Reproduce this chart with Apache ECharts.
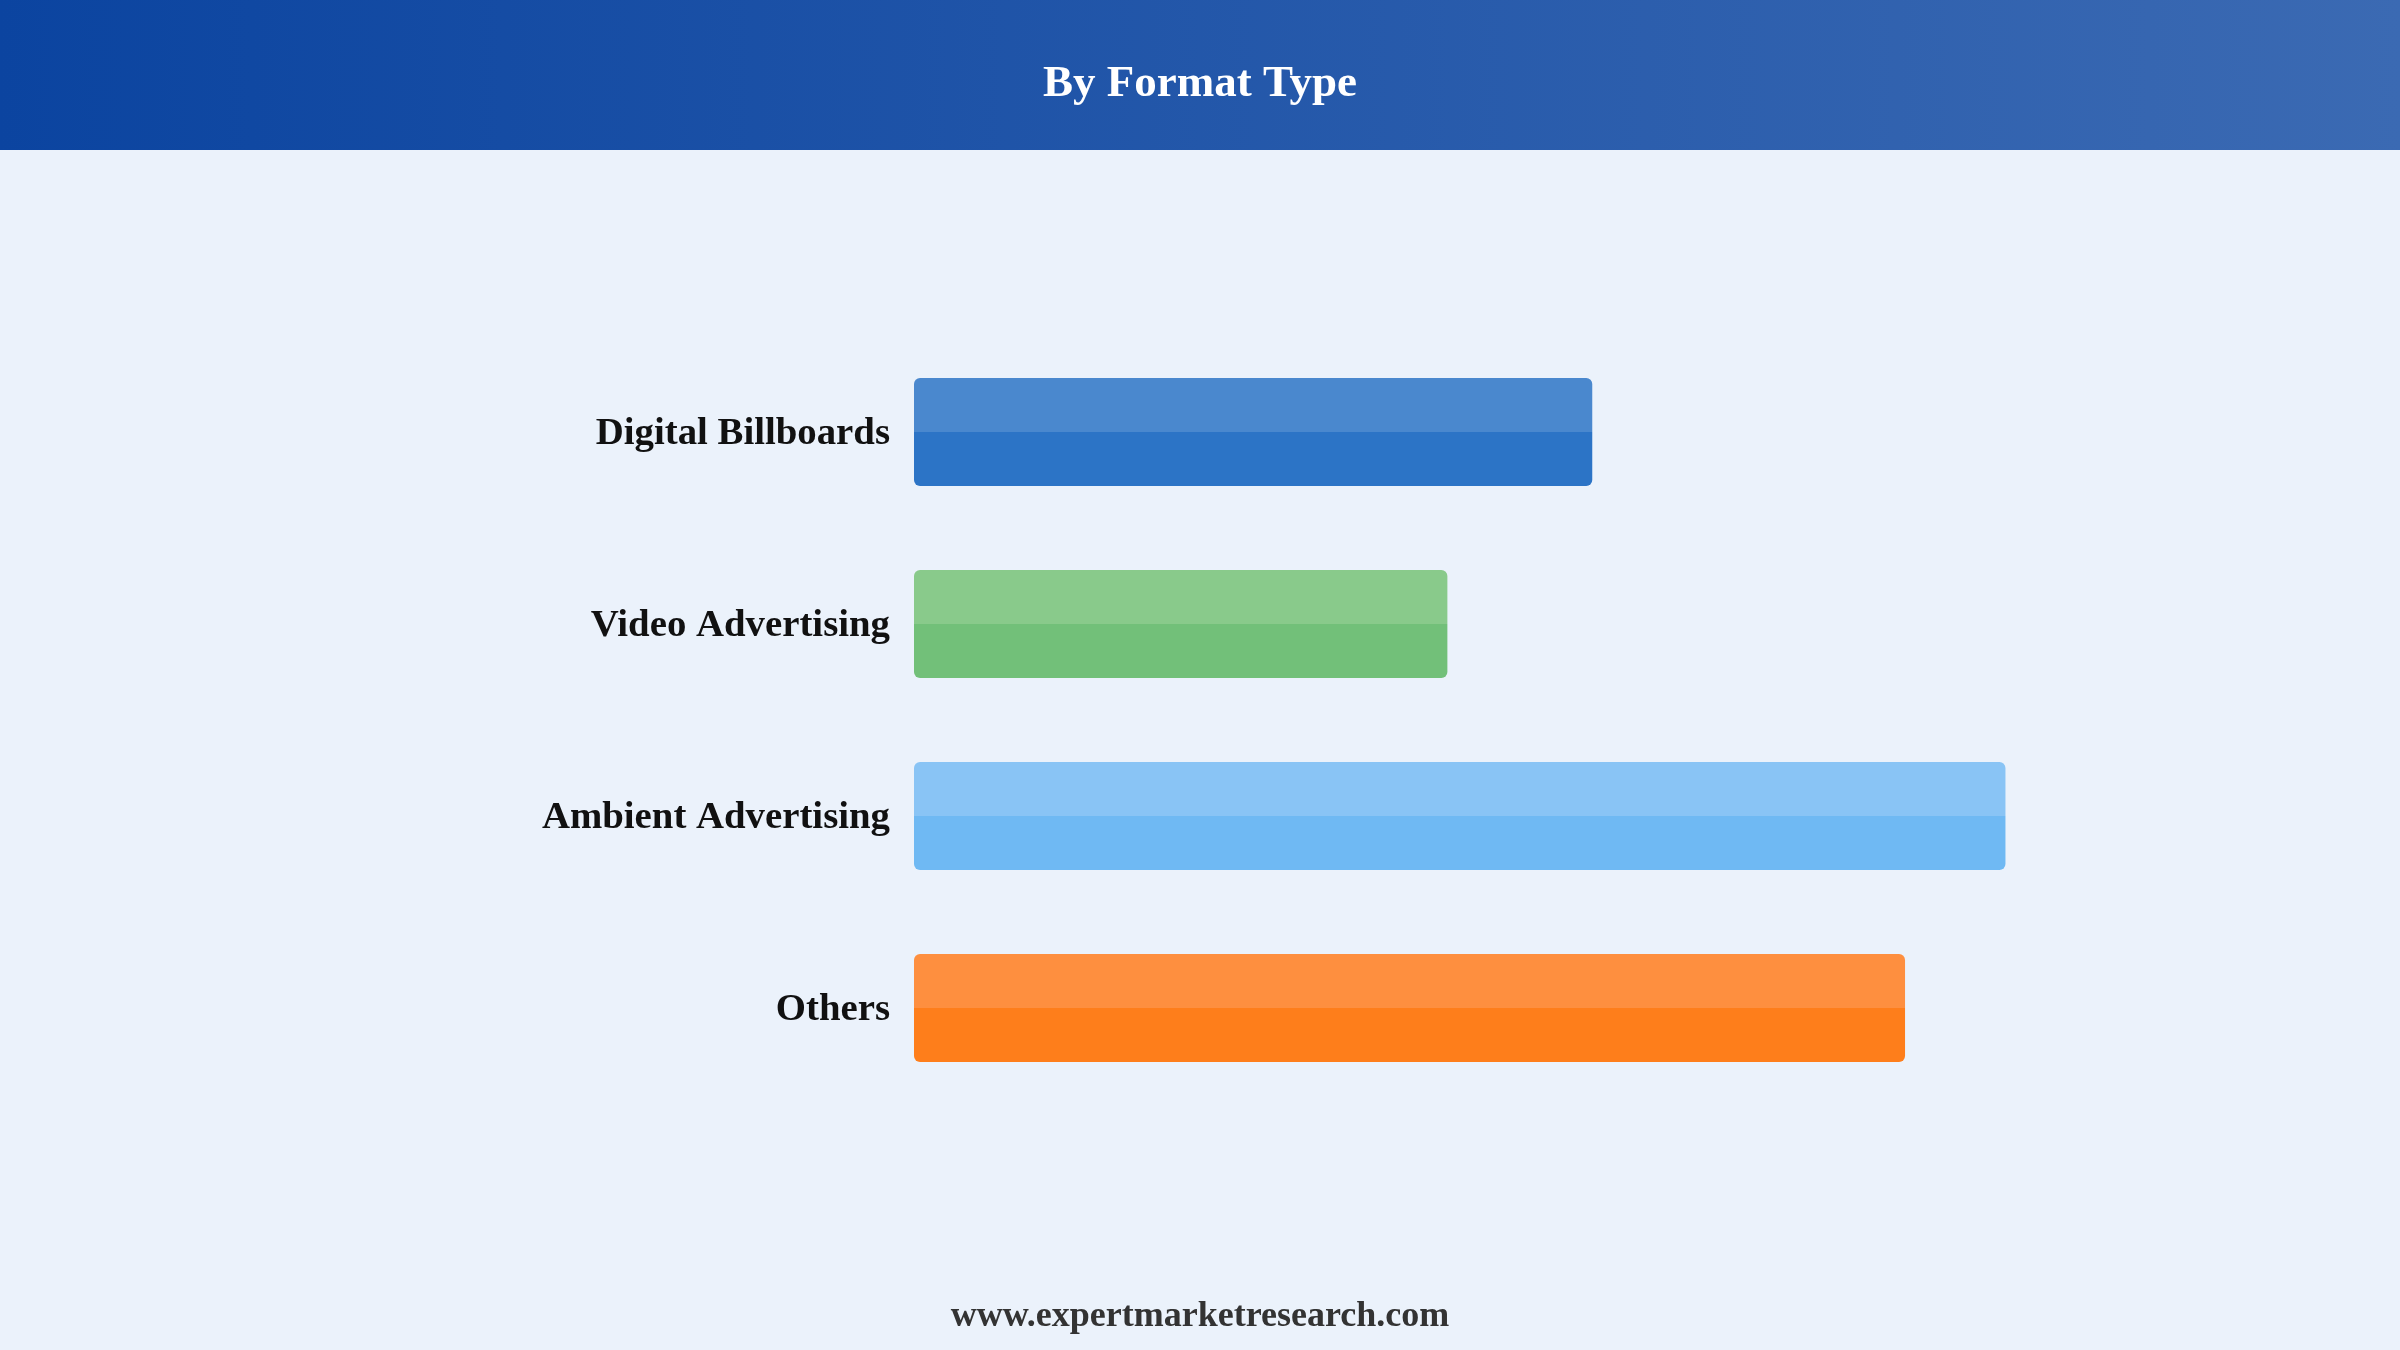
<!DOCTYPE html>
<html>
<head>
<meta charset="utf-8">
<script src="https://cdn.jsdelivr.net/npm/echarts@6/dist/echarts.min.js"></script>
<style>
  html, body { margin: 0; padding: 0; background: #EBF2FB; }
  #chart { width: 2400px; height: 1350px; }
</style>
</head>
<body>
<div id="chart"></div>
<script>
const categories = ['Digital Billboards', 'Video Advertising', 'Ambient Advertising', 'Others'];
const values = [20.6, 16.2, 33.15, 30.1];
const topColors = ['#4A88CE', '#89CA8B', '#89C4F5', '#FE8F3F'];
const bottomColors = ['#2C74C6', '#72C079', '#6FB9F3', '#FE7E1B'];
const titleText = 'By Format Type';
const footerText = 'www.expertmarketresearch.com';

const chart = echarts.init(document.getElementById('chart'), null, { renderer: 'canvas' });

const seriesData = values.map((v, i) => ({
  value: v,
  itemStyle: {
    color: new echarts.graphic.LinearGradient(0, 0, 0, 1, [
      { offset: 0, color: topColors[i] },
      { offset: 0.5, color: topColors[i] },
      { offset: 0.5, color: bottomColors[i] },
      { offset: 1, color: bottomColors[i] }
    ])
  }
}));

chart.setOption({
  backgroundColor: '#EBF2FB',
  animation: false,
  grid: { left: 914, right: 169, top: 336, bottom: 246, containLabel: false },
  xAxis: {
    type: 'value', min: 0, max: 40,
    show: false
  },
  yAxis: {
    type: 'category',
    data: categories,
    inverse: true,
    axisLine: { show: false },
    axisTick: { show: false },
    splitLine: { show: false },
    axisLabel: {
      margin: 24,
      formatter: '{a|{value}}',
      rich: {
        a: {
          padding: [4, 0, 0, 0],
          fontFamily: 'Liberation Serif',
          fontWeight: 'bold',
          fontSize: 38.8,
          color: '#111111'
        }
      },
      fontFamily: 'Liberation Serif',
      fontWeight: 'bold',
      fontSize: 38.8,
      color: '#111111'
    }
  },
  series: [{
    type: 'bar',
    data: seriesData,
    barWidth: 108,
    itemStyle: { borderRadius: 6 }
  }],
  graphic: [
    {
      type: 'rect',
      shape: { x: 0, y: 0, width: 2400, height: 150 },
      style: {
        fill: new echarts.graphic.LinearGradient(0, 0, 1, 0, [
          { offset: 0, color: '#0B44A0' },
          { offset: 1, color: '#3B6AB3' }
        ])
      },
      z: 0
    },
    {
      type: 'text',
      x: 1200, y: 84,
      style: {
        text: titleText,
        fill: '#FFFFFF',
        fontFamily: 'Liberation Serif',
        fontWeight: 'bold',
        fontSize: 45,
        align: 'center',
        verticalAlign: 'middle'
      },
      z: 10
    },
    {
      type: 'text',
      x: 1200, y: 1317,
      style: {
        text: footerText,
        fill: '#333333',
        fontFamily: 'Liberation Serif',
        fontWeight: 'bold',
        fontSize: 36,
        align: 'center',
        verticalAlign: 'middle'
      },
      z: 10
    }
  ]
});
</script>
</body>
</html>
